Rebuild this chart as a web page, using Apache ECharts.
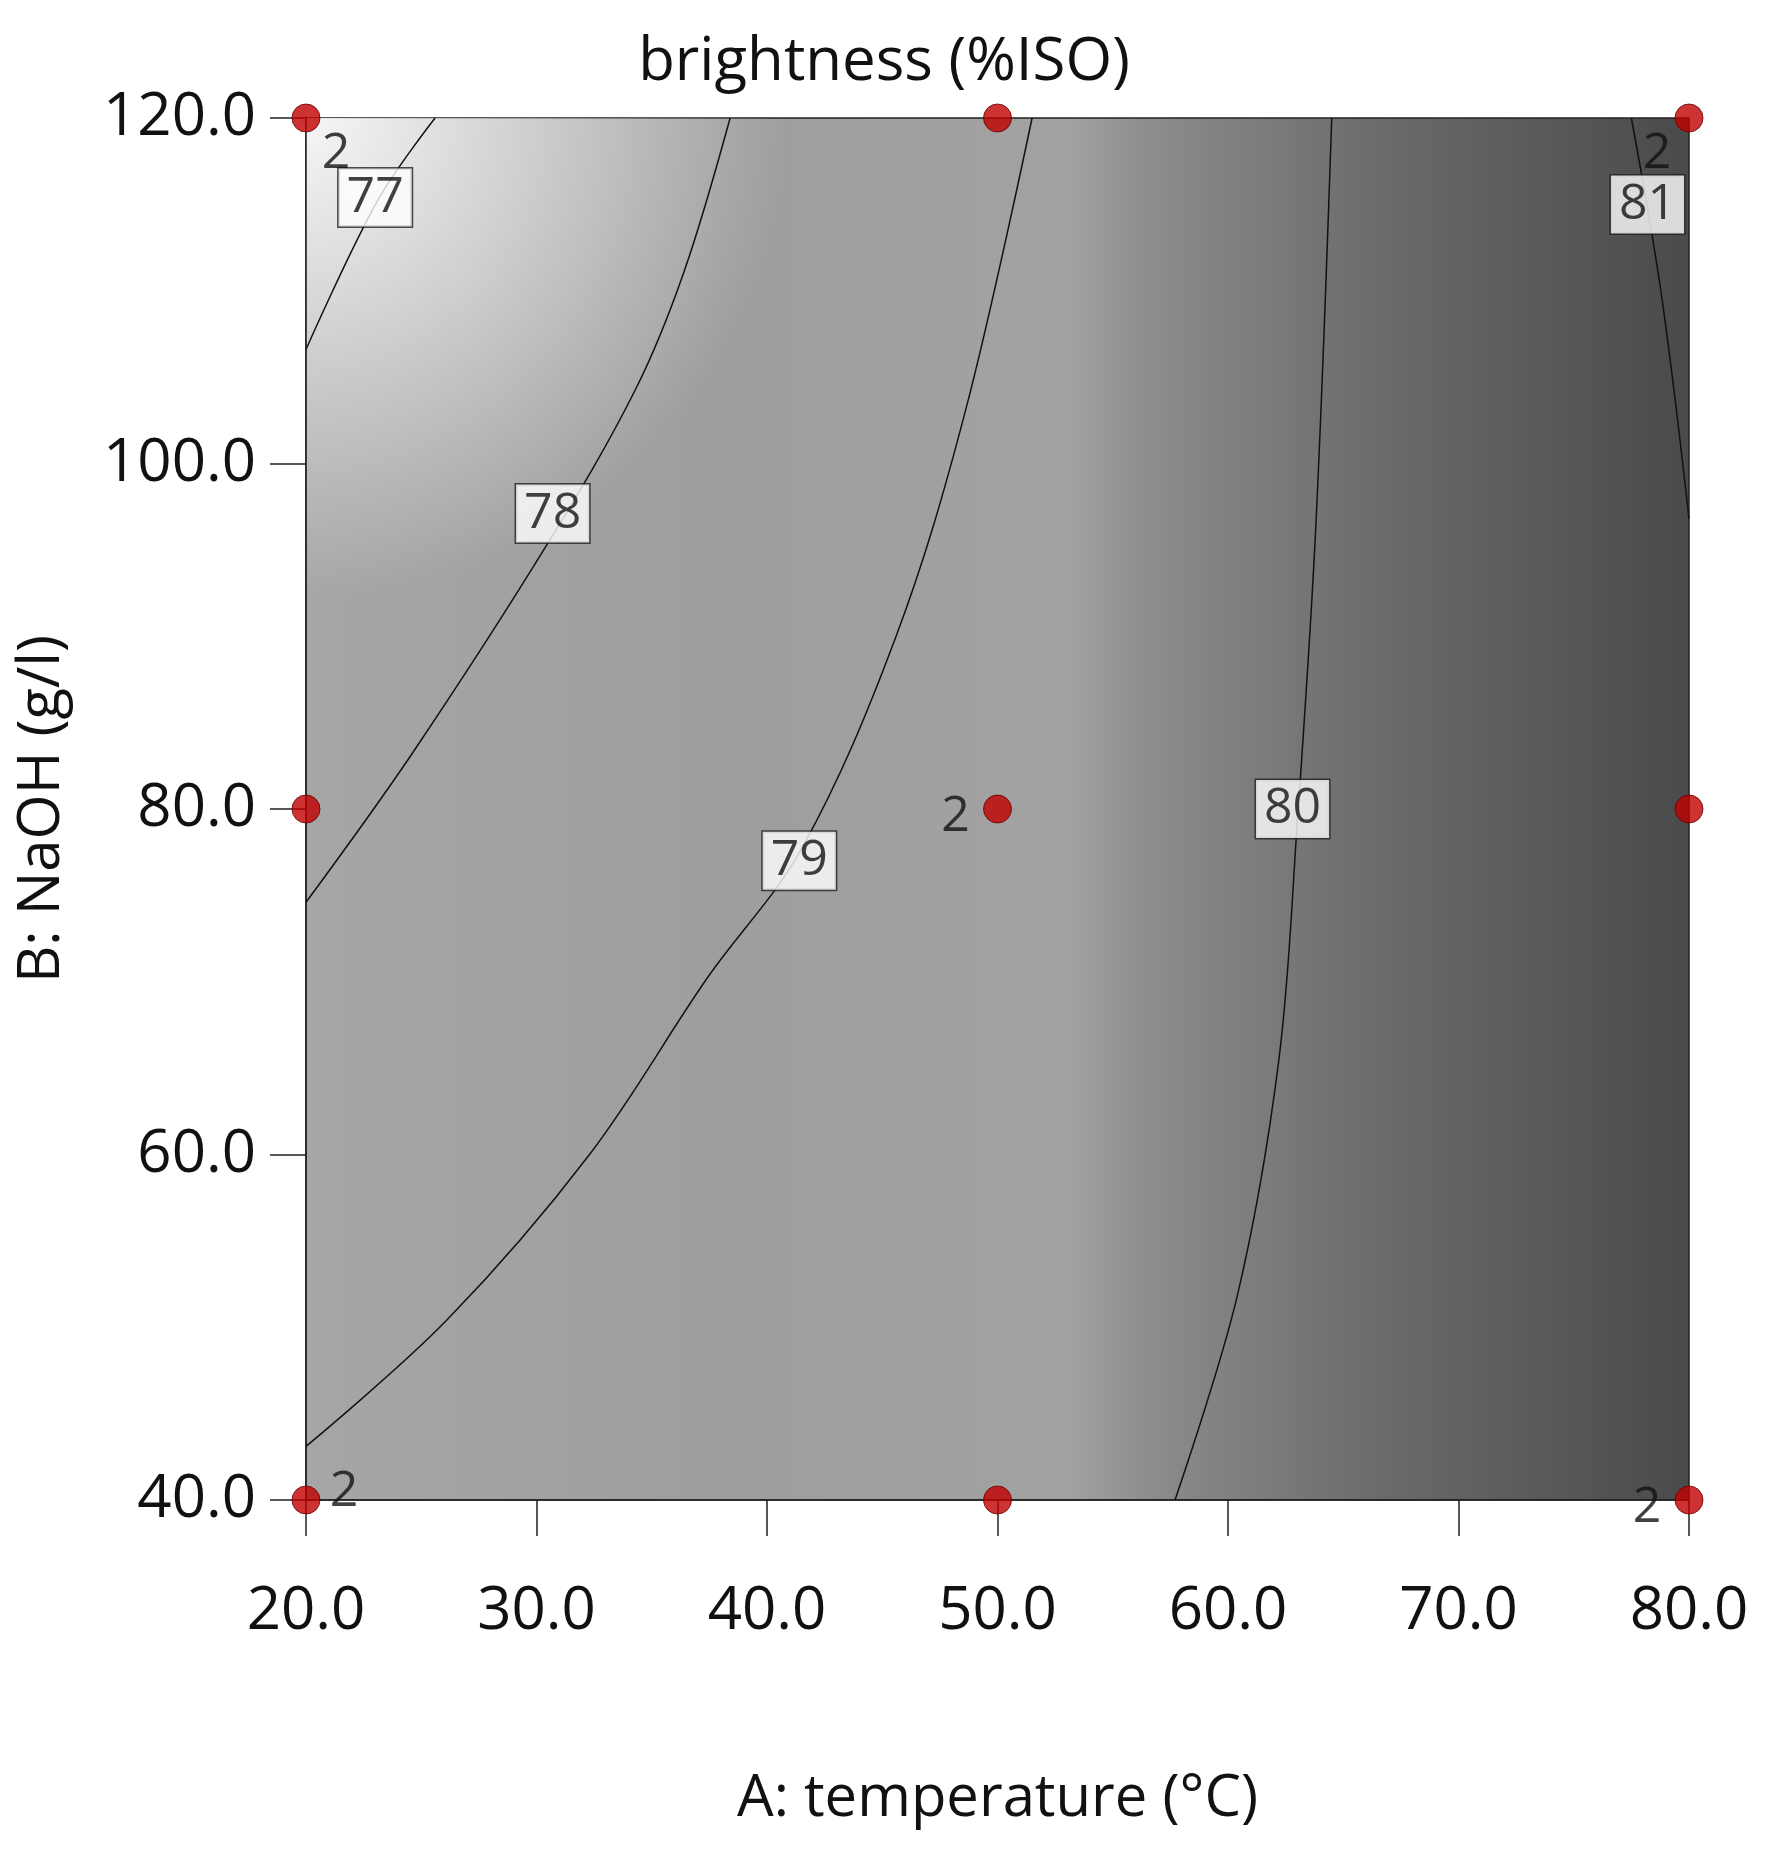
<!DOCTYPE html><html><head><meta charset="utf-8">
<script src="https://cdn.jsdelivr.net/npm/echarts@6/dist/echarts.min.js"></script>
<style>html,body{margin:0;background:#fff}#c{width:1768px;height:1851px}</style></head><body><div id="c"></div>
<script>
const xTicks=[20,30,40,50,60,70,80];
const yTicks=[40,60,80,100,120];
const c77=[[20,106.6],[23.1,115.2],[25.6,120]];
const c78=[[20,74.6],[24.6,83.2],[30.5,95.4],[34.3,104.3],[36.4,111.1],[38.4,120]];
const c79=[[20,43.1],[26.1,50.4],[32.3,60],[37.4,70.2],[41.5,77.7],[45.6,90],[48.6,103],[51.5,120]];
const c80=[[57.7,40],[60.4,51.8],[62.2,65.4],[63,79.1],[63.8,96.1],[64.5,120]];
const c81=[[77.5,120],[78.8,109.8],[80,96.8]];
const contourLabels=[[23,115.4,'77'],[30.7,97.1,'78'],[41.4,77,'79'],[62.8,80,'80'],[78.2,115,'81']];
const designPts=[[20,120],[50,120],[80,120],[20,80],[50,80],[80,80],[20,40],[50,40],[80,40]];
const replicateLabels=[[20,40,'2','right'],[20,120,'2','br'],[80,120,'2','bl'],[80,40,'2','left'],[50,80,'2','left']];
const font='"Open Sans", sans-serif';
const ch=echarts.init(document.getElementById('c'));
const line=d=>({type:'line',data:d,smooth:0.35,symbol:'none',lineStyle:{color:'#111',width:1.5},z:3});
ch.setOption({
 title:{text:'brightness (%ISO)',left:'center',top:28,textStyle:{fontFamily:font,fontWeight:'normal',fontSize:60,color:'#111'}},
 grid:{left:306,right:79,top:118,bottom:351,show:true,borderColor:'#222',borderWidth:1.5,
  backgroundColor:new echarts.graphic.LinearGradient(0,0,1,0,[{offset:0,color:'#a6a6a6'},{offset:0.3,color:'#9e9e9e'},{offset:0.55,color:'#a2a2a2'},{offset:0.62,color:'#8a8a8a'},{offset:0.78,color:'#6a6a6a'},{offset:1,color:'#4a4a4a'}])},
 graphic:[{type:'rect',shape:{x:306,y:118,width:480,height:600},z:0,silent:true,
   style:{fill:new echarts.graphic.RadialGradient(0,0,1,[{offset:0,color:'rgba(255,255,255,0.9)'},{offset:1,color:'rgba(255,255,255,0)'}])}}],
 xAxis:{type:'value',min:20,max:80,interval:10,name:'A: temperature (°C)',nameLocation:'middle',nameGap:270,
  nameTextStyle:{fontFamily:font,fontSize:58,color:'#111'},
  axisLine:{show:true,onZero:false,lineStyle:{color:'#222',width:1.5}},axisTick:{show:true,length:36,inside:false,lineStyle:{color:'#222',width:1.5}},
  axisLabel:{fontFamily:font,fontSize:60,color:'#111',margin:82,formatter:v=>v.toFixed(1)},splitLine:{show:false}},
 yAxis:{type:'value',min:40,max:120,interval:20,name:'B: NaOH (g/l)',nameLocation:'middle',nameGap:235,
  nameTextStyle:{fontFamily:font,fontSize:58,color:'#111'},
  axisLine:{show:true,onZero:false,lineStyle:{color:'#222',width:1.5}},axisTick:{show:true,length:36,lineStyle:{color:'#222',width:1.5}},
  axisLabel:{fontFamily:font,fontSize:60,color:'#111',margin:50,formatter:v=>v.toFixed(1)},splitLine:{show:false}},
 series:[line(c77),line(c78),line(c79),line(c80),line(c81),
  {type:'scatter',data:contourLabels.map(d=>({value:[d[0],d[1]],label:{formatter:d[2]}})),symbolSize:0,z:5,
   label:{show:true,position:'inside',fontFamily:font,fontSize:50,color:'#111',backgroundColor:'#fff',borderColor:'#222',borderWidth:1.5,padding:[4,8]}},
  {type:'scatter',data:designPts,symbolSize:28,itemStyle:{color:'#c00000',borderColor:'#600',borderWidth:1},z:6},
  {type:'scatter',data:replicateLabels.map(d=>{const off={right:[38,-8],br:[30,36],bl:[-32,36],left:[-42,8]}[d[3]];return {value:[d[0],d[1]],label:{formatter:d[2],offset:off}}}),
   symbolSize:0,z:7,label:{show:true,position:'inside',fontFamily:font,fontSize:50,color:'#111'}}
 ]
});
</script></body></html>
